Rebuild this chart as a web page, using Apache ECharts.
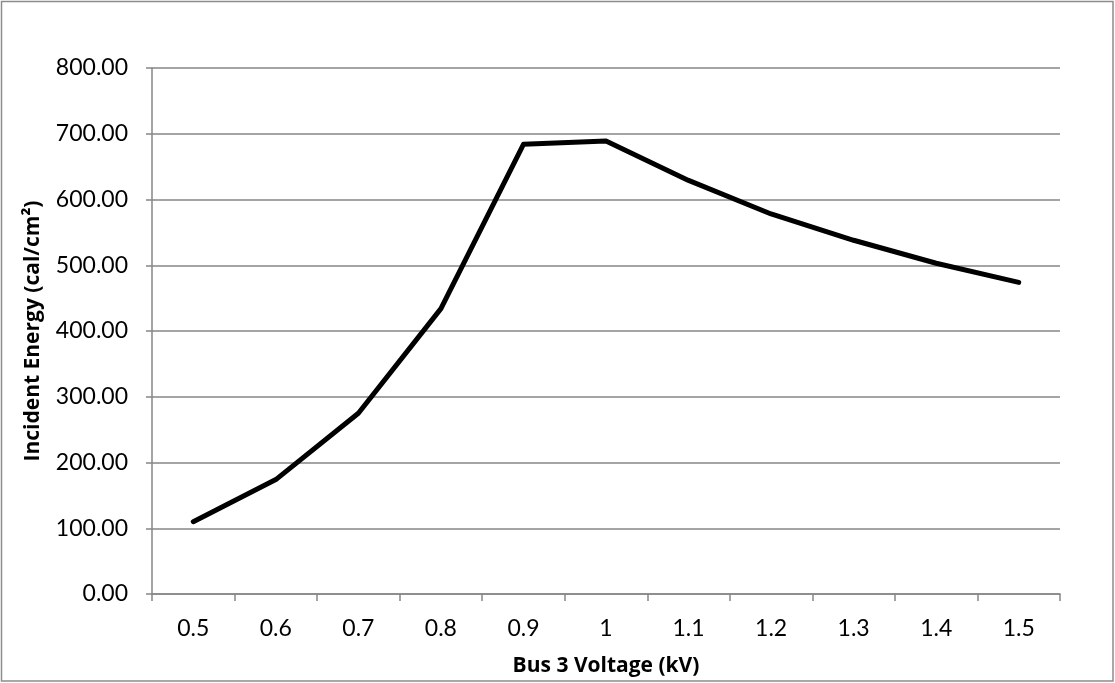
<!DOCTYPE html>
<html><head><meta charset="utf-8">
<script src="https://cdn.jsdelivr.net/npm/echarts@6/dist/echarts.min.js"></script>
<style>html,body{margin:0;padding:0;background:#fff}#c{width:1115px;height:683px}</style>
</head><body><div id="c"></div>
<script>
const categories = ['0.5','0.6','0.7','0.8','0.9','1','1.1','1.2','1.3','1.4','1.5'];
const energy = [110, 174, 275, 434, 684, 689, 629, 578, 538, 503, 474];
const xTitle = 'Bus 3 Voltage (kV)';
const yTitle = 'Incident Energy (cal/cm²)';
const FONT = 'Lato, "Open Sans", sans-serif';
const TFONT = '"Open Sans", sans-serif';
const chart = echarts.init(document.getElementById('c'), null, {renderer:'canvas'});
chart.setOption({
  animation:false,
  graphic:[{type:'rect', shape:{x:1.5,y:1.5,width:1111.5,height:679.5}, style:{fill:'none',stroke:'#8c8c8c',lineWidth:1.5}, silent:true}],
  grid:{left:152, right:55, top:68, bottom:89, containLabel:false},
  xAxis:{type:'category', data:categories, boundaryGap:true,
    name:xTitle, nameLocation:'middle', nameGap:62,
    nameTextStyle:{fontFamily:TFONT, fontWeight:'bold', fontSize:21, color:'#000'},
    axisLine:{lineStyle:{color:'#868686', width:1.5}},
    axisTick:{show:true, alignWithLabel:false, length:7, lineStyle:{color:'#868686', width:1.5}},
    axisLabel:{fontFamily:FONT, fontSize:23, color:'#000', margin:23}
  },
  yAxis:{type:'value', min:0, max:800, interval:100,
    name:yTitle, nameLocation:'middle', nameGap:108, nameRotate:90,
    nameTextStyle:{fontFamily:TFONT, fontWeight:'bold', fontSize:21, color:'#000'},
    axisLine:{show:true, lineStyle:{color:'#868686', width:1.5}},
    axisTick:{show:true, length:6, lineStyle:{color:'#868686', width:1.5}},
    splitLine:{lineStyle:{color:'#868686', width:1.5}},
    axisLabel:{fontFamily:FONT, fontSize:23, color:'#000', margin:24, formatter:v=>v.toFixed(2)}
  },
  series:[{type:'line', data:energy, showSymbol:false, symbol:'none',
    lineStyle:{color:'#000', width:5, cap:'round', join:'round'}}]
});
</script></body></html>
